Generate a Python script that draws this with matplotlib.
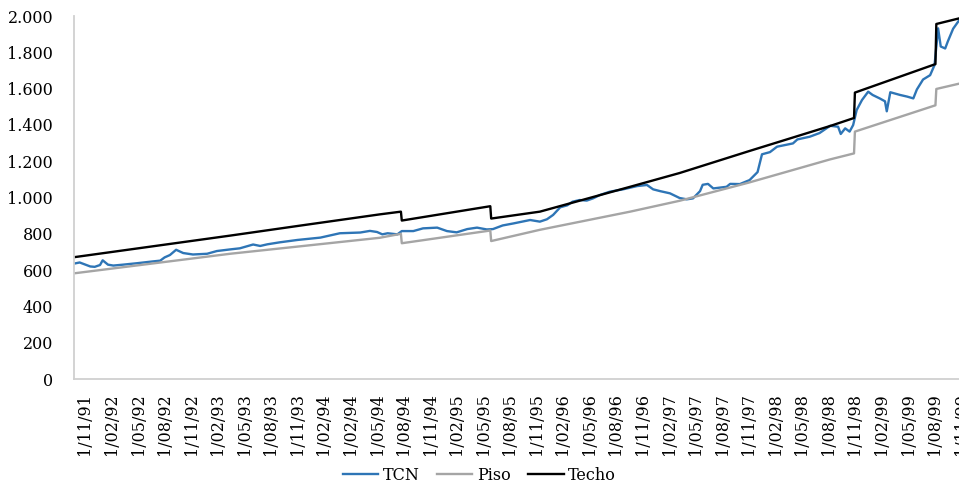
import numpy as np
import matplotlib.pyplot as plt
from matplotlib.ticker import FuncFormatter, MultipleLocator

plt.rcParams['font.family'] = ['DejaVu Serif']

# periodo: months counted from 1/11/91 (one axis label every 3 months)
tcn_periodo = [-1.1, -0.6, 0.6, 1.1, 1.7, 2.0, 2.6, 3.2, 4.3, 5.9, 7.7, 8.5, 9.0, 9.6,
               10.3, 11.1, 12.2, 13.8, 14.9, 16.4, 17.5, 19.0, 19.8, 20.6, 22.0, 24.0,
               26.6, 28.8, 31.1, 32.2, 33.0, 33.6, 34.2, 35.3, 35.8, 37.1, 38.2, 39.8,
               40.9, 42.0, 43.2, 44.3, 45.4, 46.1, 47.2, 48.4, 49.5, 50.3, 51.4, 52.2,
               52.9, 53.7, 54.5, 55.1, 55.9, 56.7, 57.4, 58.2, 59.3, 60.8, 62.4, 63.5,
               64.2, 65.0, 66.1, 67.2, 68.0, 68.7, 69.5, 69.8, 70.4, 71.0, 72.5, 72.9,
               74.0, 75.1, 76.0, 76.5, 77.4, 78.2, 80.0, 80.5, 81.9, 83.0, 84.2, 85.1,
               85.4, 85.9, 86.4, 86.8, 87.2, 87.8, 88.5, 89.0, 89.8, 90.4, 90.6, 91.0,
               92.1, 92.9, 93.6, 94.0, 94.7, 95.5, 96.0, 96.4, 96.7, 97.2, 97.5, 98.1,
               98.8, 99.2]
tcn = [637, 642, 620, 618, 628, 654, 630, 625, 630, 638, 648, 652, 670, 683,
       712, 694, 686, 690, 705, 714, 720, 741, 733, 742, 753, 766,
       779, 803, 807, 816, 810, 797, 803, 797, 815, 815, 830, 834,
       815, 808, 826, 834, 824, 826, 846, 857, 868, 876, 867, 880,
       904, 946, 957, 977, 986, 983, 995, 1014, 1032, 1045, 1063, 1069,
       1045, 1035, 1023, 997, 990, 995, 1035, 1070, 1075, 1050, 1059, 1075,
       1074, 1096, 1140, 1238, 1250, 1280, 1298, 1320, 1335, 1355, 1395, 1390,
       1350, 1381, 1363, 1399, 1482, 1537, 1583, 1565, 1546, 1530, 1475, 1580,
       1565, 1556, 1546, 1595, 1650, 1674, 1730, 1932, 1832, 1821, 1860, 1930,
       1978, 1985]

banda_periodo = [-1.1, 16.4, 24.3, 33.3, 35.7, 35.8, 45.8, 45.9, 51.4, 61.6,
                 67.2, 75.0, 84.2, 86.9, 87.0, 96.1, 96.2, 99.2]
piso = [583, 690, 731, 778, 800, 748, 818, 760, 822, 922,
        982, 1082, 1210, 1243, 1363, 1508, 1598, 1632]
techo = [672, 790, 845, 907, 922, 873, 952, 884, 922, 1059,
         1135, 1255, 1394, 1438, 1578, 1735, 1956, 1992]

etiquetas = ["1/11/91", "1/02/92", "1/05/92", "1/08/92", "1/11/92", "1/02/93",
             "1/05/93", "1/08/93", "1/11/93", "1/02/94", "1/02/94", "1/05/94",
             "1/08/94", "1/11/94", "1/02/95", "1/05/95", "1/08/95", "1/11/95",
             "1/02/96", "1/05/96", "1/08/96", "1/11/96", "1/02/97", "1/05/97",
             "1/08/97", "1/11/97", "1/02/98", "1/05/98", "1/08/98", "1/11/98",
             "1/02/99", "1/05/99", "1/08/99", "1/11/99"]

fig = plt.figure(figsize=(9.59, 4.86), dpi=100)
ax = fig.add_axes([74 / 959, 107 / 486, 891 / 959, 363 / 486])

ax.plot(tcn_periodo, tcn, color='#2E75B6', lw=1.7, label='TCN')
ax.plot(banda_periodo, piso, color='#A5A5A5', lw=1.7, label='Piso')
ax.plot(banda_periodo, techo, color='black', lw=1.7, label='Techo')

ax.set_xlim(-1.24, 99.44)
ax.set_ylim(0, 2000)
ax.yaxis.set_major_locator(MultipleLocator(200))
ax.yaxis.set_major_formatter(FuncFormatter(lambda v, p: f"{int(v):,}".replace(",", ".")))
ax.set_xticks(np.arange(len(etiquetas)) * 3)
ax.set_xticklabels(etiquetas, rotation=90)

for s in ['top', 'right']:
    ax.spines[s].set_visible(False)
for s in ['left', 'bottom']:
    ax.spines[s].set_color('#D0D0D0')
    ax.spines[s].set_linewidth(1.3)

ax.tick_params(axis='y', length=0, pad=15, labelsize=11.5)
ax.tick_params(axis='x', length=0, pad=10, labelsize=11.5)

fig.legend(loc='center', bbox_to_anchor=(0.5, 1 - 475 / 486), ncol=3, frameon=False,
           fontsize=11.5, handlelength=2.2, handletextpad=0.3, columnspacing=1.1)

fig.savefig('out.png', dpi=100)
